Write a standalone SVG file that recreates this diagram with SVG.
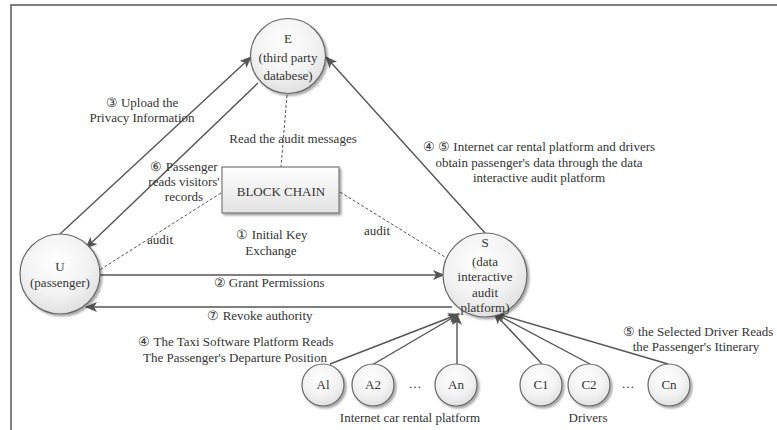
<svg xmlns="http://www.w3.org/2000/svg" width="777" height="430" viewBox="0 0 777 430">
  <defs>
    <radialGradient id="ballFill" cx="0.45" cy="0.35" r="0.7">
      <stop offset="0" stop-color="#ffffff"/>
      <stop offset="0.6" stop-color="#f2f2f2"/>
      <stop offset="1" stop-color="#dcdcdc"/>
    </radialGradient>
    <linearGradient id="boxFill" x1="0" y1="0" x2="0" y2="1">
      <stop offset="0" stop-color="#ffffff"/>
      <stop offset="1" stop-color="#e2e2e2"/>
    </linearGradient>
    <filter id="shade" x="-20%" y="-20%" width="150%" height="150%">
      <feGaussianBlur in="SourceAlpha" stdDeviation="1.2"/>
      <feOffset dx="2" dy="2" result="off"/>
      <feComponentTransfer><feFuncA type="linear" slope="0.35"/></feComponentTransfer>
      <feMerge><feMergeNode/><feMergeNode in="SourceGraphic"/></feMerge>
    </filter>
    <marker id="arrow" viewBox="0 0 12 10" refX="11" refY="5" markerWidth="12" markerHeight="10" markerUnits="userSpaceOnUse" orient="auto">
      <path d="M0,0 L12,5 L0,10 L3,5 Z" fill="#555"/>
    </marker>
  </defs>
  <style>
    text { font-family: "Liberation Serif", "Times New Roman", "DejaVu Serif", serif; font-size: 13px; fill: #333; }
    .mid { text-anchor: middle; }
    .node { fill: url(#ballFill); stroke: #666; stroke-width: 1.2; filter: url(#shade); }
    .box { fill: url(#boxFill); stroke: #777; stroke-width: 1.2; filter: url(#shade); }
    .link { stroke: #555; stroke-width: 1.4; fill: none; }
    .arr { marker-end: url(#arrow); }
    .dash { stroke: #555; stroke-width: 1; stroke-dasharray: 3 2; fill: none; }
  </style>

  <!-- outer frame -->
  <rect x="11" y="5" width="800" height="500" fill="#ffffff" stroke="#555" stroke-width="1.5"/>

  <!-- connectors -->
  <g id="connectors">
    <line class="link arr" x1="60" y1="234" x2="251" y2="57"/>
    <line class="link arr" x1="258" y1="83" x2="86" y2="248"/>
    <line class="link arr" x1="485" y1="233" x2="326" y2="57"/>
    <line class="dash" x1="287" y1="95" x2="281" y2="167"/>
    <line class="dash" x1="221" y1="193" x2="98" y2="271"/>
    <line class="dash" x1="340" y1="192" x2="453" y2="262"/>
    <line class="link arr" x1="100" y1="275" x2="444" y2="275"/>
    <line class="link arr" x1="452" y1="307" x2="86" y2="307"/>
    <line class="link arr" x1="330" y1="364" x2="459" y2="314"/>
    <line class="link arr" x1="372" y1="365" x2="459" y2="314"/>
    <line class="link arr" x1="457" y1="364" x2="457" y2="314"/>
    <line class="link arr" x1="542" y1="364" x2="494" y2="313"/>
    <line class="link arr" x1="590" y1="364" x2="494" y2="313"/>
    <line class="link arr" x1="668" y1="364" x2="494" y2="313"/>
  </g>

  <!-- connector labels -->
  <g id="labels">
    <text class="mid" x="142" y="107">③ Upload the</text>
    <text class="mid" x="142" y="122">Privacy Information</text>
    <text class="mid" x="293" y="143">Read the audit messages</text>
    <text class="mid" x="184" y="171">⑥ Passenger</text>
    <text class="mid" x="184" y="186">reads visitors'</text>
    <text class="mid" x="184" y="201">records</text>
    <text class="mid" x="160" y="244">audit</text>
    <text class="mid" x="272" y="239">① Initial Key</text>
    <text class="mid" x="271" y="255">Exchange</text>
    <text class="mid" x="377" y="235">audit</text>
    <text class="mid" x="269" y="287">② Grant Permissions</text>
    <text class="mid" x="260" y="320">⑦ Revoke authority</text>
    <text class="mid" x="236" y="346">④ The Taxi Software Platform Reads</text>
    <text class="mid" x="235" y="362">The Passenger's Departure Position</text>
    <text class="mid" x="539" y="151">④ ⑤ Internet car rental platform and drivers</text>
    <text class="mid" x="539" y="167">obtain passenger's data through the data</text>
    <text class="mid" x="539" y="182">interactive audit platform</text>
    <text class="mid" x="698" y="336">⑤ the Selected Driver Reads</text>
    <text class="mid" x="696" y="351">the Passenger's Itinerary</text>
    <text class="mid" x="410" y="422">Internet car rental platform</text>
    <text class="mid" x="588" y="422">Drivers</text>
    <text class="mid" x="415" y="388">…</text>
    <text class="mid" x="628" y="388">…</text>
  </g>

  <!-- nodes -->
  <g id="node-E">
    <circle class="node" cx="288" cy="56" r="37.5"/>
    <text class="mid" x="288" y="43">E</text>
    <text class="mid" x="288" y="62">(third party</text>
    <text class="mid" x="288" y="80">databese)</text>
  </g>
  <g id="node-blockchain">
    <rect class="box" x="222" y="167" width="117" height="46"/>
    <text class="mid" x="281" y="196">BLOCK CHAIN</text>
  </g>
  <g id="node-U">
    <circle class="node" cx="60" cy="274" r="40"/>
    <text class="mid" x="60" y="271">U</text>
    <text class="mid" x="60" y="287">(passenger)</text>
  </g>
  <g id="node-S">
    <circle class="node" cx="485" cy="275" r="42"/>
    <text class="mid" x="485" y="247">S</text>
    <text class="mid" x="485" y="266">(data</text>
    <text class="mid" x="485" y="281">interactive</text>
    <text class="mid" x="485" y="297">audit</text>
    <text class="mid" x="485" y="312">platform)</text>
  </g>
  <g id="node-A1">
    <circle class="node" cx="323" cy="385" r="21"/>
    <text class="mid" x="323" y="389">Al</text>
  </g>
  <g id="node-A2">
    <circle class="node" cx="373" cy="385" r="21"/>
    <text class="mid" x="373" y="389">A2</text>
  </g>
  <g id="node-An">
    <circle class="node" cx="456" cy="385" r="21"/>
    <text class="mid" x="456" y="389">An</text>
  </g>
  <g id="node-C1">
    <circle class="node" cx="541" cy="385" r="21"/>
    <text class="mid" x="541" y="389">C1</text>
  </g>
  <g id="node-C2">
    <circle class="node" cx="589" cy="385" r="21"/>
    <text class="mid" x="589" y="389">C2</text>
  </g>
  <g id="node-Cn">
    <circle class="node" cx="669" cy="385" r="21"/>
    <text class="mid" x="669" y="389">Cn</text>
  </g>
</svg>
